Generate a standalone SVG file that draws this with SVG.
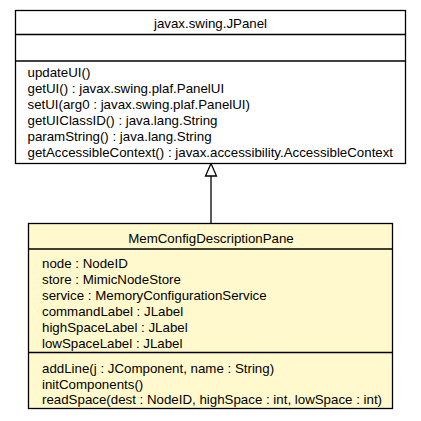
<svg xmlns="http://www.w3.org/2000/svg" width="421" height="421" viewBox="0 0 421 421">
<style>
text{font-family:"Liberation Sans",Arial,Helvetica,sans-serif;font-size:13.3px;fill:#000}
.t{text-anchor:middle}
.box{stroke:#000;stroke-width:1.3}
.ln{stroke:#000;stroke-width:1.3;fill:none}
</style>
<rect width="421" height="421" fill="#fff"/>
<g id="connectors">
<line class="ln" x1="211" y1="223" x2="211" y2="176"/>
<polygon points="211,163.5 205.5,176 216.5,176" fill="#fff" stroke="#000" stroke-width="1.3"/>
</g>
<g id="JPanel">
<rect class="box" x="15.5" y="10.5" width="390" height="153" fill="#fff"/>
<line class="ln" x1="15.5" y1="34.5" x2="405.5" y2="34.5"/>
<line class="ln" x1="15.5" y1="61" x2="405.5" y2="61"/>
<text class="t" x="210.5" y="27.5">javax.swing.JPanel</text>
<text x="27.5" y="77">updateUI()</text>
<text x="27.5" y="92.9">getUI() : javax.swing.plaf.PanelUI</text>
<text x="27.5" y="108.8">setUI(arg0 : javax.swing.plaf.PanelUI)</text>
<text x="27.5" y="124.7">getUIClassID() : java.lang.String</text>
<text x="27.5" y="140.6">paramString() : java.lang.String</text>
<text x="27.5" y="156.5">getAccessibleContext() : javax.accessibility.AccessibleContext</text>
</g>
<g id="MemConfigDescriptionPane">
<rect class="box" x="28.5" y="223.5" width="364" height="185" fill="#fff9cd"/>
<line class="ln" x1="28.5" y1="249" x2="392.5" y2="249"/>
<line class="ln" x1="28.5" y1="352.5" x2="392.5" y2="352.5"/>
<text class="t" x="211" y="242.5">MemConfigDescriptionPane</text>
<text x="42" y="267.5">node : NodeID</text>
<text x="42" y="283.5">store : MimicNodeStore</text>
<text x="42" y="299.5">service : MemoryConfigurationService</text>
<text x="42" y="315.5">commandLabel : JLabel</text>
<text x="42" y="331.5">highSpaceLabel : JLabel</text>
<text x="42" y="347.5">lowSpaceLabel : JLabel</text>
<text x="42" y="373">addLine(j : JComponent, name : String)</text>
<text x="42" y="388.5">initComponents()</text>
<text x="42" y="404">readSpace(dest : NodeID, highSpace : int, lowSpace : int)</text>
</g>
</svg>
